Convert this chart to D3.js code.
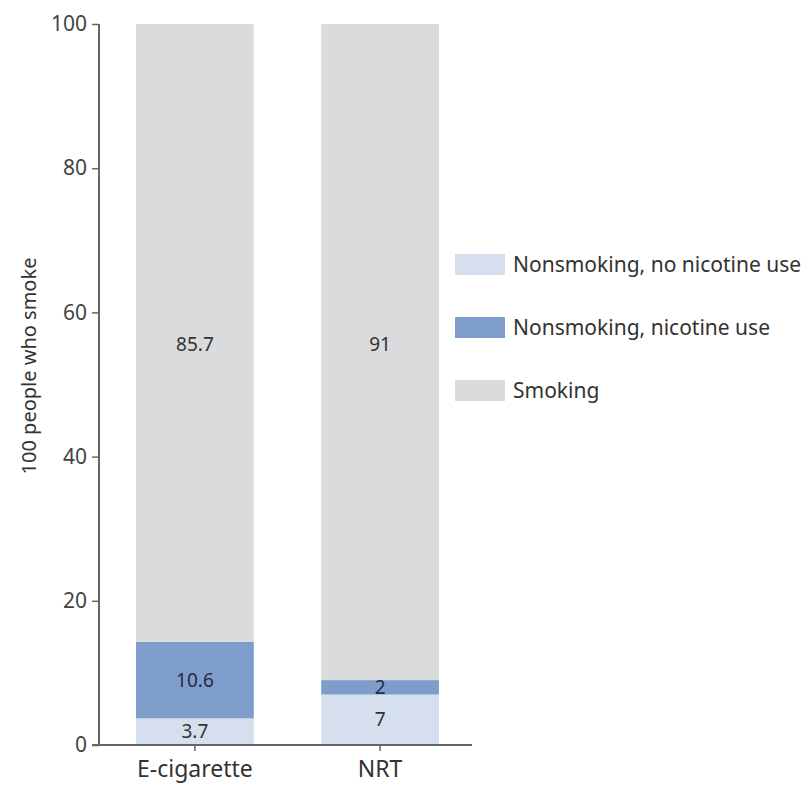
<!DOCTYPE html>
<html>
<head>
<meta charset="utf-8">
<script src="https://cdn.jsdelivr.net/npm/d3@7"></script>
<style>
  html, body { margin: 0; padding: 0; background: #fff; }
  svg text { font-family: "Noto Sans", sans-serif; }
</style>
</head>
<body>
<svg id="chart" width="809" height="790"></svg>
<script>
// Outcomes per 100 people who smoke, by quit aid
const categories = ["E-cigarette", "NRT"];
const seriesNames = ["Nonsmoking, no nicotine use", "Nonsmoking, nicotine use", "Smoking"];
const noNicotine = [3.7, 7];
const nicotineUse = [10.6, 2];
const smoking = [85.7, 91];
const yTicks = [0, 20, 40, 60, 80, 100];

const colors = ["#d6dfee", "#7f9dcb", "#dadbdd"];

const svg = d3.select("#chart");
const margin = { left: 99, top: 24, bottom: 745, right: 476 };

const x = d3.scaleBand().domain(categories).range([margin.left, margin.right])
  .paddingInner(0.364).paddingOuter(0.2);
const y = d3.scaleLinear().domain([0, 100]).range([margin.bottom, margin.top]);

const rows = categories.map((c, i) => ({
  category: c,
  [seriesNames[0]]: noNicotine[i],
  [seriesNames[1]]: nicotineUse[i],
  [seriesNames[2]]: smoking[i]
}));
const stacked = d3.stack().keys(seriesNames)(rows);

// stacked bar segments
const layers = svg.append("g").selectAll("g").data(stacked).join("g")
  .attr("fill", (d, i) => colors[i]);
layers.selectAll("rect").data(d => d).join("rect")
  .attr("x", d => x(d.data.category))
  .attr("width", x.bandwidth())
  .attr("y", d => y(d[1]))
  .attr("height", d => y(d[0]) - y(d[1]));

// value labels: lower segments centred, smoking labels share one row
const topMid = d3.mean(stacked[2], d => (d[0] + d[1]) / 2) - 0.3;
stacked.forEach((layer, li) => {
  svg.append("g").selectAll("text").data(layer).join("text")
    .attr("x", d => x(d.data.category) + x.bandwidth() / 2)
    .attr("y", d => li === 2 ? y(topMid) : y((d[0] + d[1]) / 2))
    .attr("dy", "0.35em")
    .attr("text-anchor", "middle")
    .attr("font-size", 19)
    .attr("fill", li === 1 ? "#1f2d44" : "#333")
    .text(d => d.data[seriesNames[li]]);
});

// y axis
const yAxis = svg.append("g").attr("transform", `translate(${margin.left},0)`)
  .call(d3.axisLeft(y).tickValues(yTicks).tickSize(7).tickPadding(5));
yAxis.select(".domain").attr("stroke", "#666").attr("stroke-width", 2)
  .attr("d", `M0,${margin.top}V${margin.bottom}`);
yAxis.selectAll(".tick line").attr("stroke", "#666").attr("stroke-width", 1.5);
yAxis.selectAll(".tick text").attr("font-size", 21).attr("fill", "#444")
  .attr("font-family", "Noto Sans, sans-serif");

// x axis
const xAxis = svg.append("g").attr("transform", `translate(0,${margin.bottom})`)
  .call(d3.axisBottom(x).tickSize(6).tickPadding(10));
xAxis.select(".domain").attr("stroke", "#666").attr("stroke-width", 2)
  .attr("d", `M${margin.left - 7},0H${margin.right - 4}`);
xAxis.selectAll(".tick line").attr("stroke", "#666").attr("stroke-width", 1.5);
xAxis.selectAll(".tick text").attr("font-size", 23).attr("fill", "#333")
  .attr("font-family", "Noto Sans, sans-serif");

// y axis title
svg.append("text")
  .attr("transform", "translate(29,366) rotate(-90)")
  .attr("text-anchor", "middle")
  .attr("dy", "0.35em")
  .attr("font-size", 20)
  .attr("fill", "#333")
  .text("100 people who smoke");

// legend
const legend = svg.append("g").attr("transform", "translate(455,254)");
const items = legend.selectAll("g").data(seriesNames).join("g")
  .attr("transform", (d, i) => `translate(0,${i * 63})`);
items.append("rect").attr("width", 50).attr("height", 21)
  .attr("fill", (d, i) => colors[i]);
items.append("text").attr("x", 58).attr("y", 10.5).attr("dy", "0.35em")
  .attr("font-size", 21).attr("fill", "#333").text(d => d);
</script>
</body>
</html>
